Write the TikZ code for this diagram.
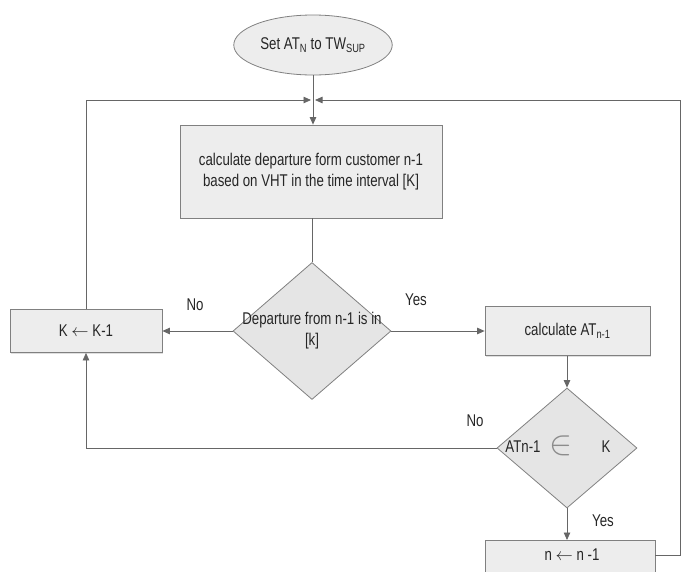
\documentclass[tikz,border=0pt]{standalone}
\usepackage{fontspec}
\setmainfont{Liberation Sans}[FakeStretch=0.78]
\usetikzlibrary{shapes.geometric,arrows.meta,shadows}

\begin{document}
\begin{tikzpicture}[x=1pt, y=-1pt,
        font = \fontsize{17}{21}\selectfont,
        every node/.style = {text = black!85},
        box/.style = {draw = black!50, line width = 0.8pt, fill = black!7, rectangle,
            drop shadow = {shadow xshift = 1.2pt, shadow yshift = -1.2pt, opacity = 0.25}},
        startnode/.style = {draw = black!50, line width = 0.8pt, fill = black!7, ellipse,
            minimum width = 150pt, minimum height = 60pt},
        decision/.style = {draw = black!50, line width = 0.8pt, fill = black!10, diamond,
            inner sep = 0pt},
        line/.style = {draw = black!60, line width = 0.8pt},
        arr/.style = {line, -{Triangle[width = 6.5pt, length = 7.5pt]}}
    ]
        \useasboundingbox (0,0) rectangle (688,571);
        \clip (0,0) rectangle (688,571);

        \node[startnode] (start) at (313,45) {Set AT\textsubscript{N} to TW\textsubscript{SUP}};
        \node[box, minimum width = 262pt, minimum height = 93pt, align = center] (calcdep) at (311,171.5)
            {calculate departure form customer n-1\\based on VHT in the time interval [K]};
        \node[decision, minimum width = 158pt, minimum height = 137pt,
            label = {[align = center, text = black!85]center:{Departure from n-1 is in\\{[k]}}}] (indep) at (312,331) {};
        \node[box, minimum width = 152pt, minimum height = 43pt] (kdec) at (86,331) {K $\leftarrow$ K-1};
        \node[box, minimum width = 165pt, minimum height = 49pt] (calcat) at (567.5,331) {calculate AT\textsubscript{n-1}};
        \node[decision, minimum width = 140pt, minimum height = 120pt] (inK) at (567,448) {};
        \node[box, minimum width = 170pt, minimum height = 40pt, anchor = north] (ndec) at (570,540) {};

        % texts inside the second test and the last box
        \node (atn) at (523,447) {ATn-1};
        \node[text = black!45, scale = 2] (elem) at (561,446) {$\in$};
        \node (kk) at (606,447) {K};
        \node (ntext) at (572,555) {n $\leftarrow$ n -1};

        \coordinate (join) at (313,100);

        % connectors
        \draw[arr] (start) -- (calcdep.north -| start);
        \draw[line] (calcdep.south -| indep) -- (indep);
        \draw[arr] (indep.west) -- (kdec.east);
        \draw[arr] (indep.east) -- (calcat.west);
        \draw[arr] (calcat.south -| inK) -- (inK.north);
        \draw[arr] (inK.west) -- (kdec.south |- inK.west) -- (kdec.south);
        \draw[arr] (inK.south) -- (inK.south |- ndec.north);
        \draw[arr] (kdec.north) |- ([xshift = -2pt]join);
        \draw[arr] (ndec.east |- ntext) -- (680,555) |- ([xshift = 2pt]join);

        % labels
        \node (no1) at (195,305) {No};
        \node (yes1) at (416,300) {Yes};
        \node (no2) at (475,421) {No};
        \node (yes2) at (603,521) {Yes};
    \end{tikzpicture}
\end{document}
